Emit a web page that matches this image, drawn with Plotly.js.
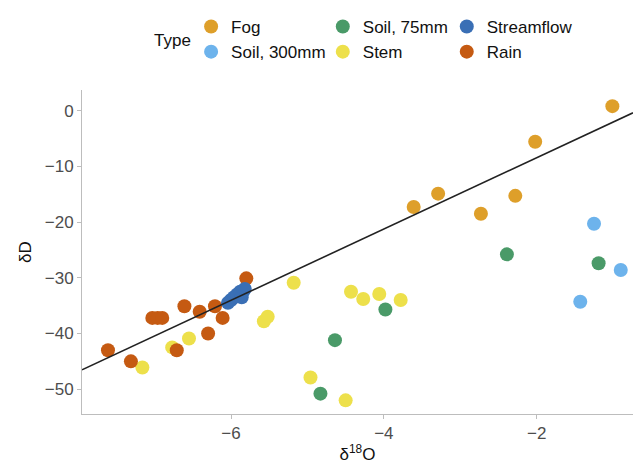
<!DOCTYPE html>
<html><head><meta charset="utf-8">
<script src="https://cdn.plot.ly/plotly-3.0.1.min.js"></script>
<style>html,body{margin:0;padding:0;background:#fff}#chart{width:633px;height:464px}</style>
</head><body><div id="chart"></div>
<script>
// ---- data ----
const fogX = [-1.01, -2.02, -2.28, -2.73, -3.29, -3.61];
const fogY = [0.8, -5.6, -15.3, -18.5, -14.9, -17.3];

const soil300X = [-1.25, -0.90, -1.43];
const soil300Y = [-20.3, -28.6, -34.3];

const soil75X = [-2.39, -1.19, -3.98, -4.64, -4.83];
const soil75Y = [-25.8, -27.4, -35.7, -41.2, -50.8];

const stemX = [-5.18, -4.43, -4.27, -4.06, -3.78, -4.96, -4.50, -5.57, -5.52, -6.55, -6.77, -7.16];
const stemY = [-30.9, -32.5, -33.8, -32.9, -34.0, -47.9, -52.0, -37.8, -37.0, -40.9, -42.5, -46.1];

const rainX = [-7.61, -7.31, -7.03, -6.96, -6.90, -6.61, -6.41, -6.21, -6.11, -6.30, -6.71, -5.80];
const rainY = [-43.0, -45.0, -37.2, -37.2, -37.2, -35.1, -36.1, -35.1, -37.2, -40.0, -43.0, -30.1];

const streamX = [-6.04, -6.00, -5.96, -5.92, -5.88, -5.84, -5.86, -5.82];
const streamY = [-34.5, -34.0, -33.5, -33.0, -32.5, -32.4, -33.5, -32.0];

const fitSlope = 6.4;
const fitIntercept = 4.35;
const xRange = [-7.95, -0.74];
const yRange = [-54.45, 3.7];
const xTicks = [-6, -4, -2];
const yTicks = [0, -10, -20, -30, -40, -50];

const lineX = xRange.slice();
const lineY = lineX.map(v => fitSlope * v + fitIntercept);

const MS = 14;
function pts(name, x, y, color, legend, rank) {
  return {type: 'scatter', mode: 'markers', name: name, x: x, y: y,
    legend: legend, legendgroup: name, legendrank: rank,
    marker: {color: color, size: MS, line: {width: 0}},
    hoverinfo: 'x+y'};
}

const traces = [
  pts('Fog', fogX, fogY, '#DE9F2A', 'legend', 1),
  pts('Soil, 300mm', soil300X, soil300Y, '#6DB3EC', 'legend', 2),
  pts('Soil, 75mm', soil75X, soil75Y, '#4A9A68', 'legend2', 3),
  pts('Stem', stemX, stemY, '#EDE04B', 'legend2', 4),
  pts('Rain', rainX, rainY, '#C55A12', 'legend3', 6),
  pts('Streamflow', streamX, streamY, '#3A6FB5', 'legend3', 5),
  {type: 'scatter', mode: 'lines', x: lineX, y: lineY, showlegend: false,
   line: {color: '#222222', width: 1.6}, hoverinfo: 'skip'}
];

const FONT = 'Liberation Sans, Arial, Helvetica, sans-serif';
function leg(x) {
  return {orientation: 'v', x: x, xanchor: 'left', y: 1.25, yanchor: 'top',
    font: {family: FONT, size: 17, color: '#111'},
    traceorder: 'grouped', tracegroupgap: 0, itemwidth: 30,
    bgcolor: 'rgba(0,0,0,0)'};
}

const layout = {
  width: 633, height: 464,
  margin: {l: 82, r: 0, t: 90, b: 50},
  paper_bgcolor: '#ffffff', plot_bgcolor: '#ffffff',
  font: {family: FONT, size: 16, color: '#4D4D4D'},
  xaxis: {range: xRange, tickvals: xTicks, showgrid: false, zeroline: false,
    showline: true, linecolor: '#BDBDBD', linewidth: 1, ticks: 'outside', ticklen: 4,
    tickcolor: '#BDBDBD', tickfont: {size: 17, color: '#4D4D4D'},
    title: {text: 'δ<sup>18</sup>O', font: {size: 17, color: '#111'}, standoff: 2}},
  yaxis: {range: yRange, tickvals: yTicks, showgrid: false, zeroline: false,
    showline: true, linecolor: '#BDBDBD', linewidth: 1, ticks: 'outside', ticklen: 4,
    tickcolor: '#BDBDBD', tickfont: {size: 17, color: '#4D4D4D'},
    title: {text: 'δD', font: {size: 17, color: '#111'}, standoff: 8}},
  legend: leg(0.198),
  legend2: leg(0.437),
  legend3: leg(0.662),
  annotations: [{xref: 'paper', yref: 'paper', x: 0.165, y: 1.154, text: 'Type',
    showarrow: false, xanchor: 'center', yanchor: 'middle',
    font: {family: FONT, size: 17, color: '#111'}}],
  showlegend: true
};

Plotly.newPlot('chart', traces, layout, {displayModeBar: false, staticPlot: true});
</script>
</body></html>
